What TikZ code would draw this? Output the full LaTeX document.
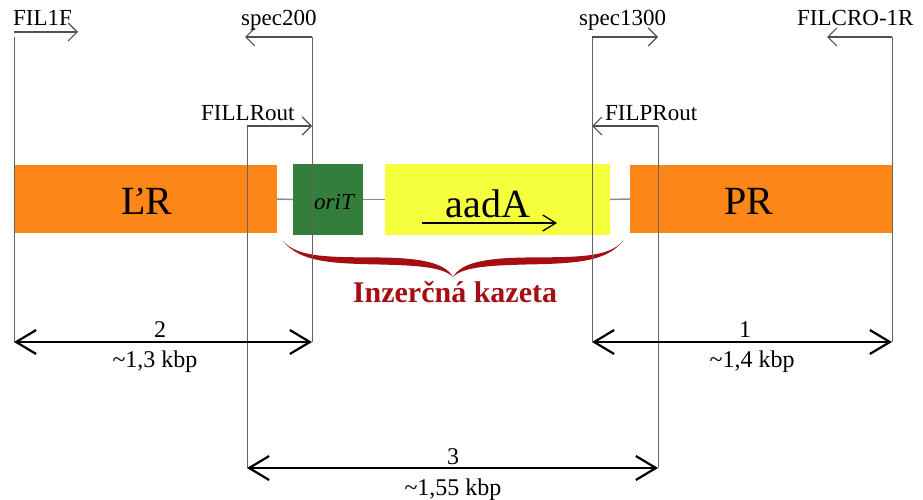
\documentclass[tikz,border=0pt]{standalone}
\usepackage{fontspec}
\setmainfont{Liberation Serif}
\usetikzlibrary{arrows.meta}
\definecolor{boxorange}{RGB}{252,134,24}
\definecolor{boxgreen}{RGB}{50,126,58}
\definecolor{boxyellow}{RGB}{246,255,60}
\definecolor{bracered}{RGB}{165,15,20}
\definecolor{guidegray}{RGB}{100,100,100}
\definecolor{linkgray}{RGB}{140,140,140}
\begin{document}
\begin{tikzpicture}[x=1pt,y=-1pt,
  box/.style={draw=none, inner sep=0pt, outer sep=0pt},
  biglab/.style={inner sep=0pt, anchor=base, font=\fontsize{40}{48}\selectfont},
  lab/.style={inner sep=0pt, anchor=base west, font=\fontsize{23}{28}\selectfont},
  dimlab/.style={inner sep=0pt, anchor=base, font=\fontsize{24}{28}\selectfont},
  guide/.style={draw=guidegray, line width=1pt},
  primer/.style={draw=guidegray!80!black, line width=1.1pt, -{Straight Barb[length=9pt,width=18pt]}},
  dimarrow/.style={draw=black, line width=2.2pt, {Straight Barb[length=20pt,width=24pt]}-{Straight Barb[length=20pt,width=24pt]}},
  link/.style={draw=linkgray, line width=1.5pt}
]
\useasboundingbox (0,0) rectangle (923,500);

% boxes
\node[box, fill=boxorange, minimum width=263pt, minimum height=68pt] (LR) at (145.5,199) {};
\node[box, fill=boxgreen, minimum width=70pt, minimum height=71pt] (ORI) at (328,199.5) {};
\node[box, fill=boxyellow, minimum width=225pt, minimum height=71pt] (AAD) at (497.5,199.5) {};
\node[box, fill=boxorange, minimum width=263pt, minimum height=68pt] (PR) at (761.5,199) {};
\draw[link] (LR.east) -- (ORI.west);
\draw[link] (ORI.east) -- (AAD.west);
\draw[link] (AAD.east) -- (PR.west);

\node[biglab] (tLR) at (147,214) {Ľ\kern-0.02em R};
\node[biglab] (tPR) at (749,214) {PR};
\node[biglab, font=\fontsize{40}{48}\selectfont] (tAAD) at (488,217) {aadA};
\node[inner sep=0pt, anchor=base, font=\fontsize{23}{28}\selectfont\itshape] (tORI) at (334,209) {oriT};
\coordinate (aadS) at (422,223);
\coordinate (aadE) at (557,223);
\draw[black, line width=1.3pt, -{Straight Barb[length=13pt,width=16pt]}] (aadS) -- (aadE);

% brace
\fill[bracered] (283,241) .. controls (298,258) and (330,257) .. (380,257.5)
  .. controls (422,258) and (445,263) .. (453,277)
  .. controls (461,263) and (484,258) .. (526,257.5)
  .. controls (576,257) and (608,258) .. (623,241)
  .. controls (606,262) and (576,263.5) .. (526,264.5)
  .. controls (488,265.5) and (463,267) .. (453,277)
  .. controls (443,267) and (418,265.5) .. (380,264.5)
  .. controls (330,263.5) and (300,262) .. (283,241) -- cycle;
\node[inner sep=0pt, anchor=base, text=bracered, font=\fontsize{30}{36}\selectfont\bfseries] (tIK) at (455,302) {Inzerčná kazeta};

% primer coordinates
\coordinate (aS) at (14,32);   \coordinate (aE) at (78,32);
\coordinate (aT) at (14,37);   \coordinate (aB) at (14,342);
\coordinate (bS) at (312,37);  \coordinate (bE) at (245,37);
\coordinate (bB) at (312,342);
\coordinate (cS) at (247,126); \coordinate (cE) at (312,126);
\coordinate (cB) at (247,468);
\coordinate (dS) at (592,37);  \coordinate (dE) at (658,37);
\coordinate (dB) at (592,342);
\coordinate (eS) at (658,126); \coordinate (eE) at (592,126);
\coordinate (eB) at (658,468);
\coordinate (fS) at (892,37);  \coordinate (fE) at (827,37);
\coordinate (fB) at (892,342);

% vertical guides
\draw[guide] (aT) -- (aB);
\draw[guide] (bS) -- (bB);
\draw[guide] (cS) -- (cB);
\draw[guide] (dS) -- (dB);
\draw[guide] (eS) -- (eB);
\draw[guide] (fS) -- (fB);

% primer arrows
\draw[primer] (aS) -- (aE);
\draw[primer] (bS) -- (bE);
\draw[primer] (cS) -- (cE);
\draw[primer] (dS) -- (dE);
\draw[primer] (eS) -- (eE);
\draw[primer] (fS) -- (fE);

% primer labels
\node[lab] (lFIL1F) at (13,26) {FIL1F};
\node[lab] (lspec200) at (241,26) {spec200};
\node[lab] (lFILLR) at (201,121) {FILLRout};
\node[lab] (lspec1300) at (579,26) {spec1300};
\node[lab] (lFILPR) at (605,121) {FILPRout};
\node[lab] (lFILCRO) at (797,26) {FILCRO-1R};

% dimension arrows
\draw[dimarrow] (aB) -- (bB);
\draw[dimarrow] (dB) -- (fB);
\draw[dimarrow] (cB) -- (eB);

\node[dimlab] (n2) at (160,337) {2};
\node[dimlab] (k2) at (155,367) {\textasciitilde1,3 kbp};
\node[dimlab] (n1) at (745,337) {1};
\node[dimlab] (k1) at (752,367) {\textasciitilde1,4 kbp};
\node[dimlab] (n3) at (453,464) {3};
\node[dimlab] (k3) at (453,495) {\textasciitilde1,55 kbp};
\end{tikzpicture}
\end{document}
